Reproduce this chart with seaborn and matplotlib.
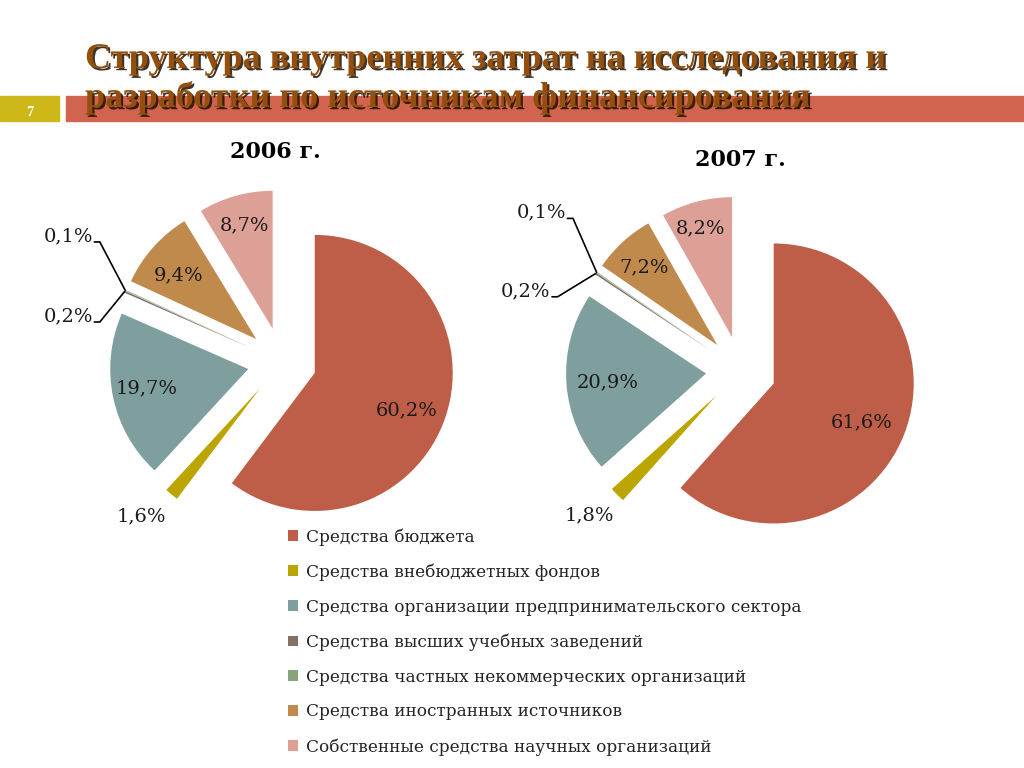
import matplotlib
matplotlib.use("Agg")
import matplotlib.pyplot as plt
import matplotlib.patches as mpatches
import matplotlib.patheffects as pe
import seaborn as sns
import numpy as np

sns.set_theme(style="white")
plt.rcParams['font.family'] = ['DejaVu Serif', 'DejaVu Sans']

# ---------------- data ----------------
categories = [
    "Средства бюджета",
    "Средства внебюджетных фондов",
    "Средства организации предпринимательского сектора",
    "Средства высших учебных заведений",
    "Средства частных некоммерческих организаций",
    "Средства иностранных источников",
    "Собственные средства научных организаций",
]
values_2006 = [60.2, 1.6, 19.7, 0.2, 0.1, 9.4, 8.7]
values_2007 = [61.6, 1.8, 20.9, 0.2, 0.1, 7.2, 8.2]
labels_2006 = ["60,2%", "1,6%", "19,7%", "0,2%", "0,1%", "9,4%", "8,7%"]
labels_2007 = ["61,6%", "1,8%", "20,9%", "0,2%", "0,1%", "7,2%", "8,2%"]
years = ["2006 г.", "2007 г."]
title_lines = ["Структура внутренних затрат на исследования и",
               "разработки по источникам финансирования"]
slide_number = "7"

colors = ["#BF5E48", "#BBA500", "#7F9F9F", "#837067", "#86A57F", "#C08A4D", "#DDA097"]

# ---------------- layout ----------------
W, H = 1024, 768
fig = plt.figure(figsize=(W / 100, H / 100), dpi=100)
fig.patch.set_facecolor("white")


def fx(x):
    return x / W


def fy(y):
    return 1 - y / H


# header bars
fig.patches.append(mpatches.Rectangle((fx(0), fy(121)), fx(59), 25 / H,
                                      transform=fig.transFigure, color="#CDB719", zorder=0))
fig.patches.append(mpatches.Rectangle((fx(66), fy(121)), 1 - fx(66), 25 / H,
                                      transform=fig.transFigure, color="#D1644F", zorder=0))
fig.text(fx(30), fy(113), slide_number, color="white", fontsize=10.5, fontweight="bold",
         ha="center", va="center", family=["Liberation Serif"])

shadow = [pe.SimplePatchShadow(offset=(1.6, -1.6), shadow_rgbFace="#1E1000", alpha=0.85), pe.Normal()]
fig.text(fx(85), fy(68), title_lines[0], color="#944F0E", fontsize=26, fontweight="bold",
         family=["Liberation Serif"], ha="left", va="baseline", path_effects=shadow, zorder=5)
fig.text(fx(85), fy(107), title_lines[1], color="#944F0E", fontsize=26, fontweight="bold",
         family=["Liberation Serif"], ha="left", va="baseline", path_effects=shadow, zorder=5)

# pies: centre (px), radius (px)
pie_specs = [
    dict(values=values_2006, labels=labels_2006, year=years[0], cx=282, cy=362, r=138,
         year_pos=(275, 158),
         pos={0: (0.90, -0.35), 1: (-1.02, -1.12), 2: (-0.98, -0.19), 5: (-0.75, 0.63), 6: (-0.27, 0.99)},
         lead={3: (-1.37, 0.33), 4: (-1.37, 0.91)}),
    dict(values=values_2007, labels=labels_2007, year=years[1], cx=741, cy=371, r=140,
         year_pos=(740, 166),
         pos={0: (0.86, -0.37), 1: (-1.08, -1.03), 2: (-0.95, -0.08), 5: (-0.69, 0.74), 6: (-0.29, 1.02)},
         lead={3: (-1.36, 0.57), 4: (-1.25, 1.13)}),
]

box = 500
wedges_for_legend = None
for spec in pie_specs:
    left = fx(spec["cx"] - box / 2)
    bottom = fy(spec["cy"] + box / 2)
    ax = fig.add_axes([left, bottom, box / W, box / H])
    lim = box / 2 / spec["r"]
    wedges, _ = ax.pie(spec["values"], colors=colors, startangle=90, counterclock=False,
                       explode=[0.25] * len(spec["values"]), radius=1,
                       wedgeprops=dict(linewidth=0))
    ax.set_xlim(-lim, lim)
    ax.set_ylim(-lim, lim)
    ax.set_aspect("equal")
    ax.axis("off")
    ax.patch.set_alpha(0)
    if wedges_for_legend is None:
        wedges_for_legend = wedges
    for i, (x, y) in spec["pos"].items():
        ax.text(x, y, spec["labels"][i], ha="center", va="center", fontsize=14,
                color="#1a1a1a", clip_on=False)
    for i, (x, y) in spec["lead"].items():
        ax.text(x, y, spec["labels"][i], ha="right", va="center", fontsize=14,
                color="#1a1a1a", clip_on=False)
        w = wedges[i]
        th = np.deg2rad((w.theta1 + w.theta2) / 2)
        tip = (w.center[0] + w.r * np.cos(th), w.center[1] + w.r * np.sin(th))
        ly = y - 0.04
        ax.plot([x + 0.01, x + 0.05, tip[0]], [ly, ly, tip[1]], color="black", lw=1.2,
                clip_on=False, solid_joinstyle="miter")
    fig.text(fx(spec["year_pos"][0]), fy(spec["year_pos"][1]), spec["year"], ha="center",
             va="baseline", fontsize=16, fontweight="bold", color="black")

leg = fig.legend(wedges_for_legend, categories, loc="upper left",
                 bbox_to_anchor=(fx(288), fy(528)), frameon=False, fontsize=12.2,
                 handlelength=0.6, handleheight=0.6, handletextpad=0.45,
                 labelspacing=1.05, borderpad=0, borderaxespad=0)
for t in leg.get_texts():
    t.set_color("#222222")

fig.savefig("out.png", dpi=100, facecolor="white")
